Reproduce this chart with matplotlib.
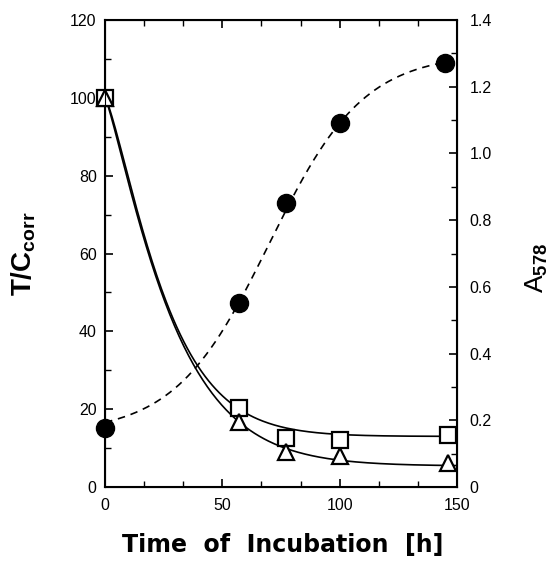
import matplotlib
matplotlib.use("Agg")
import matplotlib.pyplot as plt
import numpy as np
from matplotlib.ticker import MultipleLocator

plt.rcParams['font.family'] = 'Liberation Sans'
plt.rcParams['mathtext.fontset'] = 'custom'
plt.rcParams['mathtext.rm'] = 'Liberation Sans'
plt.rcParams['mathtext.bf'] = 'Liberation Sans:bold'

# measured points
t_sq = [0, 57, 77, 100, 146]
tc_sq = [100, 20.3, 12.6, 12.1, 13.4]
t_tri = [0, 57, 77, 100, 146]
tc_tri = [100, 16.7, 9.0, 8.0, 6.2]
t_circ = [0, 57, 77, 100, 145]
a578 = [0.177, 0.552, 0.851, 1.09, 1.27]

# fitted curve parameters (decay: c, tau, beta / sigmoid: lo, hi, t0, s)
fit_sq = (13.0, 27.8, 1.28)
fit_tri = (5.4, 30.5, 1.2)
fit_circ = (0.16, 1.30, 70.0, 20.1)


def decay(t, c, tau, beta):
    return c + (100 - c) * np.exp(-(t / tau) ** beta)


def sigmoid(t, lo, hi, t0, s):
    return lo + (hi - lo) / (1 + np.exp(-(t - t0) / s))


fig = plt.figure(figsize=(5.57, 5.64), dpi=100)
ax = fig.add_axes([105 / 557, 77 / 564, 352 / 557, 467 / 564])
ax2 = ax.twinx()

tt = np.linspace(0, 150, 300)
ax.plot(tt, decay(tt, *fit_sq), color='black', lw=1.2)
ax.plot(tt, decay(tt, *fit_tri), color='black', lw=1.2)
ax.plot(t_sq, tc_sq, 's', ms=11, mfc='white', mec='black', mew=1.6, clip_on=False, zorder=3)
ax.plot(t_tri, tc_tri, '^', ms=11, mfc='white', mec='black', mew=1.6, clip_on=False, zorder=3)

tc = np.linspace(0, 145, 300)
ax2.plot(tc, sigmoid(tc, *fit_circ), color='black', lw=1.2, ls=(0, (4.5, 3.5)))
ax2.plot(t_circ, a578, 'o', ms=13, color='black', clip_on=False, zorder=3)

ax.set_xlim(0, 150)
ax.set_ylim(0, 120)
ax2.set_ylim(0, 1.4)

ax.xaxis.set_major_locator(MultipleLocator(50))
ax.xaxis.set_minor_locator(MultipleLocator(50 / 3))
ax.yaxis.set_major_locator(MultipleLocator(20))
ax.yaxis.set_minor_locator(MultipleLocator(10))
ax2.set_yticks(np.arange(0, 1.41, 0.2))
ax2.set_yticklabels(['0'] + ['%.1f' % v for v in np.arange(0.2, 1.41, 0.2)])
ax2.yaxis.set_minor_locator(MultipleLocator(0.1))

ax.tick_params(axis='x', which='both', direction='in', top=True, labelsize=11.5, pad=8)
ax.tick_params(axis='y', which='both', direction='in', labelsize=11.5, pad=6)
ax.tick_params(which='major', length=6, width=1.2)
ax.tick_params(which='minor', length=4, width=1)
ax2.tick_params(which='both', direction='in', labelsize=11.5, pad=9)
ax2.tick_params(which='major', length=6, width=1.2)
ax2.tick_params(which='minor', length=4, width=1)
for s in ax.spines.values():
    s.set_linewidth(1.5)

ax.set_xlabel('Time  of  Incubation  [h]', fontsize=17, fontweight='bold',
              family='DejaVu Sans')
ax.xaxis.set_label_coords(0.505, -0.098)
ax.set_ylabel(r'T/C$_{\mathbf{corr}}$', fontsize=20, fontweight='bold')
ax.yaxis.set_label_coords(-0.19, 0.5)
ax2.set_ylabel(r'A$_{\mathbf{578}}$', fontsize=19, rotation=90)
ax2.yaxis.set_label_coords(1.19, 0.47)

fig.savefig('out.png', dpi=100)
